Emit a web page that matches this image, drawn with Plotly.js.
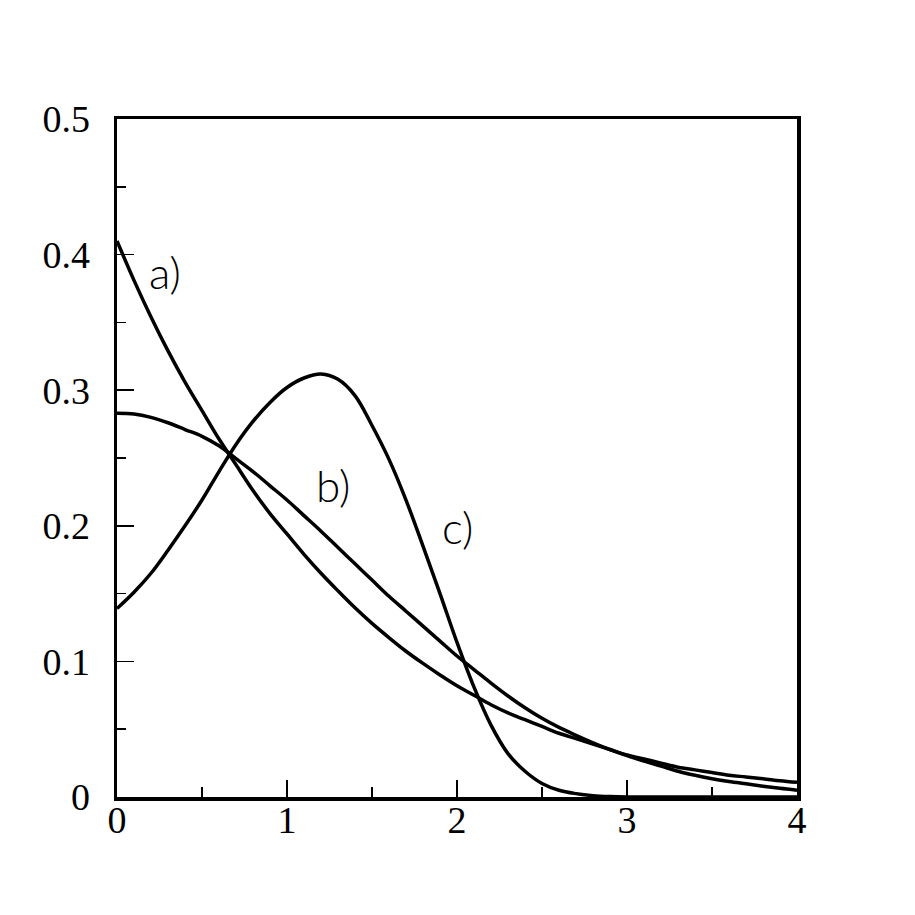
<!DOCTYPE html>
<html>
<head>
<meta charset="utf-8">
<script src="https://cdn.plot.ly/plotly-3.0.1.min.js"></script>
<style>
  html, body { margin: 0; padding: 0; background: #fff; }
  #plot { width: 915px; height: 915px; }
</style>
</head>
<body>
<div id="plot"></div>
<script>
// values, every 0.1 along x

var xs = [0, 0.1, 0.2, 0.3, 0.4, 0.5, 0.6, 0.7, 0.8, 0.9,
          1.0, 1.1, 1.2, 1.3, 1.4, 1.5, 1.6, 1.7, 1.8, 1.9,
          2.0, 2.1, 2.2, 2.3, 2.4, 2.5, 2.6, 2.7, 2.8, 2.9,
          3.0, 3.1, 3.2, 3.3, 3.4, 3.5, 3.6, 3.7, 3.8, 3.9, 4.0]

var curveA = [0.410, 0.381, 0.354, 0.329, 0.306, 0.285, 0.264, 0.245, 0.226, 0.209,
              0.194, 0.179, 0.165, 0.152, 0.1395, 0.128, 0.1175, 0.1075, 0.0985, 0.090,
              0.082, 0.075, 0.068, 0.062, 0.057, 0.052, 0.047, 0.043, 0.039, 0.035,
              0.031, 0.028, 0.025, 0.022, 0.020, 0.018, 0.016, 0.0148, 0.0135, 0.012, 0.0108]

var curveB = [0.283, 0.2825, 0.280, 0.276, 0.271, 0.266, 0.259, 0.2495, 0.240, 0.2295,
              0.219, 0.2075, 0.196, 0.184, 0.172, 0.160, 0.148, 0.137, 0.126, 0.115,
              0.104, 0.094, 0.084, 0.0745, 0.0658, 0.058, 0.0513, 0.0455, 0.040, 0.035,
              0.0305, 0.0265, 0.0228, 0.019, 0.016, 0.0135, 0.0114, 0.0097, 0.0080, 0.0064, 0.005]

var curveC = [0.139, 0.151, 0.165, 0.182, 0.200, 0.219, 0.240, 0.260, 0.277, 0.291,
              0.302, 0.309, 0.312, 0.308, 0.296, 0.274, 0.249, 0.219, 0.185, 0.150,
              0.114, 0.081, 0.053, 0.032, 0.019, 0.010, 0.005, 0.0025, 0.001, 0.0003,
              0, 0, 0, 0, 0, 0, 0, 0, 0, 0, 0]

var labelText = ['a)', 'b)', 'c)']
var labelX = [0.28, 1.27, 2.0]
var labelY = [0.387, 0.23, 0.199]

var xTicks = [0, 1, 2, 3, 4]
var yTicks = [0, 0.1, 0.2, 0.3, 0.4, 0.5]
var yTickText = ['0', '0.1', '0.2', '0.3', '0.4', '0.5']

var curve = function(y){
  return {
    x: xs, y: y,
    mode: 'lines', type: 'scatter',
    line: {color: '#000', width: 3.5, shape: 'spline', smoothing: 1},
    hoverinfo: 'skip'
  }
}

var data = [curve(curveA), curve(curveB), curve(curveC)]

var tickFont = {family: 'Liberation Serif, Times New Roman, serif', size: 38, color: '#000'}

var axisBase = {
  showline: true, linecolor: '#000', linewidth: 3.5, mirror: true,
  showgrid: false, zeroline: false,
  ticks: 'inside', ticklen: 17, tickwidth: 1.5, tickcolor: '#000',
  tickfont: tickFont
}

var layout = {
  width: 915, height: 915,
  margin: {l: 117, r: 118, t: 119, b: 118},
  paper_bgcolor: '#fff', plot_bgcolor: '#fff',
  showlegend: false,
  xaxis: Object.assign({}, axisBase, {
    range: [0, 4],
    tickvals: xTicks, ticktext: xTicks.map(String),
    ticklabelstandoff: -13,
    minor: {ticks: 'inside', ticklen: 10, tickwidth: 1.5, tickcolor: '#000', tickvals: [0.5, 1.5, 2.5, 3.5]}
  }),
  yaxis: Object.assign({}, axisBase, {
    range: [0, 0.5],
    tickvals: yTicks, ticktext: yTickText,
    ticklabelstandoff: 16,
    minor: {ticks: 'inside', ticklen: 9, tickwidth: 1.5, tickcolor: '#000', tickvals: [0.05, 0.15, 0.25, 0.35, 0.45]}
  }),
  annotations: labelText.map(function(t, i){
    return {
      x: labelX[i], y: labelY[i], xref: 'x', yref: 'y',
      text: t, showarrow: false,
      font: {family: 'Lato, DejaVu Sans, sans-serif', size: 44, weight: 300, color: '#000'}
    }
  })
}

Plotly.newPlot('plot', data, layout, {staticPlot: true, displayModeBar: false})
</script>
</body>
</html>
